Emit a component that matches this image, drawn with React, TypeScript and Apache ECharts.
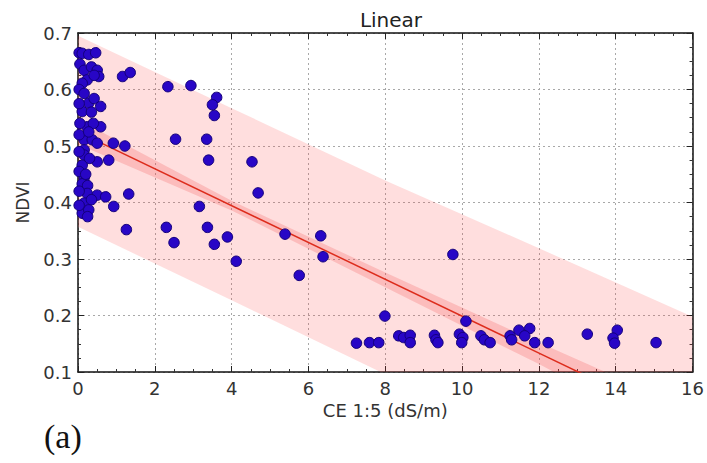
import React, { useEffect, useRef } from "react";
import * as echarts from "echarts";

const TITLE = "Linear";
const X_NAME = "CE 1:5 (dS/m)";
const Y_NAME = "NDVI";
const PANEL_LABEL = "(a)";

// observed points: [CE 1:5, NDVI]
const clusterPoints: number[][] = [
  [0.03, 0.665], [0.11, 0.664], [0.28, 0.662], [0.46, 0.665],
  [0.05, 0.645], [0.16, 0.634], [0.35, 0.64], [0.5, 0.634], [0.54, 0.623],
  [0.24, 0.617], [0.11, 0.611], [0.42, 0.625],
  [0.03, 0.6], [0.16, 0.593], [0.28, 0.576], [0.42, 0.584], [0.59, 0.57],
  [0.11, 0.561], [0.03, 0.575], [0.35, 0.56],
  [0.24, 0.534], [0.59, 0.534], [0.05, 0.54], [0.4, 0.54], [0.16, 0.511],
  [0.37, 0.511], [0.5, 0.505], [0.16, 0.493], [0.03, 0.52], [0.28, 0.525],
  [0.16, 0.484], [0.5, 0.472], [0.8, 0.475], [0.11, 0.466], [0.3, 0.478], [0.03, 0.49],
  [0.16, 0.444], [0.11, 0.433], [0.03, 0.455], [0.25, 0.43], [0.2, 0.45],
  [0.24, 0.416], [0.5, 0.413], [0.72, 0.41], [0.16, 0.399], [0.93, 0.393],
  [0.35, 0.405], [0.03, 0.42],
  [0.11, 0.381], [0.28, 0.387], [0.03, 0.395], [0.25, 0.375],
];

const midPoints: number[][] = [
  [1.16, 0.623], [1.36, 0.63], [0.92, 0.505], [1.22, 0.5], [1.32, 0.415], [1.26, 0.352],
  [2.34, 0.605], [2.94, 0.607], [3.61, 0.586], [3.5, 0.573], [3.55, 0.554],
  [2.54, 0.512], [3.35, 0.512], [3.4, 0.475], [4.53, 0.472], [4.69, 0.417],
  [3.16, 0.393], [2.3, 0.356], [3.37, 0.356], [2.5, 0.329], [3.55, 0.326],
  [3.89, 0.339], [4.12, 0.296], [5.39, 0.344], [6.32, 0.341], [6.38, 0.304],
  [5.76, 0.271],
];

const highSalinityPoints: number[][] = [
  [9.76, 0.308], [7.99, 0.199], [10.1, 0.19],
  [7.25, 0.151], [7.59, 0.152], [7.83, 0.152],
  [8.35, 0.164], [8.48, 0.161], [8.65, 0.165], [8.65, 0.152],
  [9.28, 0.165], [9.32, 0.157], [9.37, 0.152],
  [9.93, 0.167], [10.02, 0.161], [9.99, 0.152],
  [10.49, 0.164], [10.58, 0.157], [10.73, 0.152],
  [11.25, 0.164], [11.29, 0.157],
  [11.48, 0.174], [11.76, 0.177], [11.63, 0.164],
  [11.89, 0.152], [12.24, 0.152],
  [13.26, 0.167],
  [14.04, 0.174], [13.93, 0.16], [13.97, 0.151],
  [15.05, 0.152],
];

// fitted line and bands
const fitLine: number[][] = [[0, 0.525], [16, 0.003]];
const bandX = [0, 4, 8, 12, 16];
const predUpper = [0.695, 0.567, 0.439, 0.319, 0.198];
const predLower = [0.357, 0.227, 0.096, -0.046, -0.192];
const confUpper = [0.547, 0.403, 0.276, 0.152, 0.032];
const confLower = [0.503, 0.386, 0.25, 0.114, -0.028];

const xTicks = { min: 0, max: 16, interval: 2 };
const yTicks = { min: 0.1, max: 0.7, interval: 0.1 };

const FONT = "DejaVu Sans";

export default function App() {
  const ref = useRef<HTMLDivElement>(null);

  useEffect(() => {
    if (!ref.current) return;
    const chart = echarts.init(ref.current, undefined, { renderer: "svg" });

    const bandPolygon = (api: any, xs: number[], up: number[], lo: number[]) => {
      const pts: number[][] = [];
      xs.forEach((x, i) => pts.push(api.coord([x, up[i]])));
      for (let i = xs.length - 1; i >= 0; i--) pts.push(api.coord([xs[i], lo[i]]));
      return pts;
    };

    const axisCommon = {
      axisLine: { show: true, onZero: false, lineStyle: { color: "#111", width: 1.5 } },
      axisTick: { show: true, inside: true, length: 6, lineStyle: { color: "#222" } },
      minorTick: { show: true, splitNumber: 4, length: 3, lineStyle: { color: "#333" } },
    };

    const gridLine = { show: true, lineStyle: { color: "#a8a8a8", type: [2, 3], width: 1 } };

    chart.setOption({
      animation: false,
      backgroundColor: "#fff",
      title: {
        text: TITLE,
        left: 386,
        textAlign: "center",
        top: 5,
        textStyle: { fontFamily: FONT, fontSize: 20, fontWeight: "normal", color: "#222" },
      },
      grid: { left: 78, right: 12, top: 33, bottom: 91, containLabel: false },
      xAxis: [
        {
          ...axisCommon,
          type: "value",
          position: "bottom",
          min: xTicks.min,
          max: xTicks.max,
          interval: xTicks.interval,
          name: X_NAME,
          nameLocation: "middle",
          nameGap: 27,
          nameTextStyle: { fontFamily: FONT, fontSize: 18, color: "#333" },
          axisLabel: { fontFamily: FONT, fontSize: 18, color: "#333", margin: 7 },
          splitLine: gridLine,
        },
        {
          ...axisCommon,
          type: "value",
          position: "top",
          min: xTicks.min,
          max: xTicks.max,
          interval: xTicks.interval,
          axisLabel: { show: false },
          splitLine: { show: false },
        },
      ],
      yAxis: [
        {
          ...axisCommon,
          type: "value",
          position: "left",
          min: yTicks.min,
          max: yTicks.max,
          interval: yTicks.interval,
          name: Y_NAME,
          nameLocation: "middle",
          nameGap: 47,
          nameTextStyle: { fontFamily: FONT, fontSize: 17, color: "#333" },
          axisLabel: {
            fontFamily: FONT,
            fontSize: 18,
            color: "#333",
            margin: 6,
            formatter: (v: number) => v.toFixed(1),
          },
          splitLine: gridLine,
        },
        {
          ...axisCommon,
          type: "value",
          position: "right",
          min: yTicks.min,
          max: yTicks.max,
          interval: yTicks.interval,
          axisLabel: { show: false },
          splitLine: { show: false },
        },
      ],
      graphic: [
        {
          type: "text",
          left: 44,
          top: 419,
          style: {
            text: PANEL_LABEL,
            fontFamily: "Liberation Serif",
            fontSize: 34,
            fill: "#111",
          },
        },
      ],
      series: [
        {
          type: "custom",
          name: "bands",
          data: [[0, 0.4]],
          z: 1,
          silent: true,
          renderItem: (params: any, api: any) => {
            const cs = params.coordSys;
            return {
              type: "group",
              clipPath: { type: "rect", shape: { x: cs.x, y: cs.y, width: cs.width, height: cs.height } },
              children: [
                {
                  type: "polygon",
                  shape: { points: bandPolygon(api, bandX, predUpper, predLower) },
                  style: { fill: "rgba(255,60,60,0.17)", stroke: "none" },
                },
                {
                  type: "polygon",
                  shape: { points: bandPolygon(api, bandX, confUpper, confLower) },
                  style: { fill: "rgba(240,70,70,0.22)", stroke: "none" },
                },
              ],
            };
          },
        },
        {
          type: "line",
          name: "fit",
          data: fitLine,
          z: 3,
          symbol: "none",
          clip: true,
          lineStyle: { color: "#dd2c1c", width: 1.5 },
        },
        ...[clusterPoints, midPoints, highSalinityPoints].map((d, i) => ({
          type: "scatter",
          name: "obs" + i,
          data: d,
          z: 4,
          symbol: "circle",
          symbolSize: 10.5,
          itemStyle: { color: "#2806c6", borderColor: "#14007a", borderWidth: 1, opacity: 1 },
        })),
      ],
    });

    return () => chart.dispose();
  }, []);

  return (
    <div
      ref={ref}
      style={{ position: "fixed", left: 0, top: 0, width: 707, height: 463, background: "#fff" }}
    />
  );
}
